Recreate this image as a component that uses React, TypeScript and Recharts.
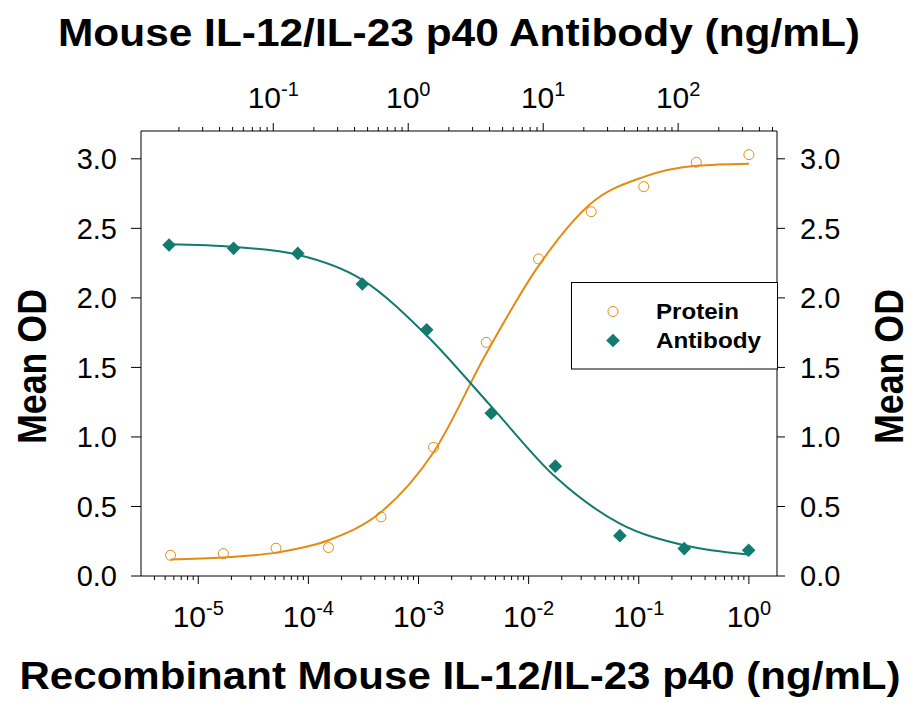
import React from "react";
import {
  ComposedChart,
  Line,
  Scatter,
  XAxis,
  YAxis,
  Legend,
  Customized,
} from "recharts";

const FONT = "'Liberation Sans', Arial, sans-serif";
const ORANGE = "#E38B12";
const TEAL = "#137A70";

// bottom axis: recombinant protein (ng/mL)
const proteinConc = [0.0000056, 0.0000169, 0.0000508, 0.000152, 0.000457, 0.00137, 0.00412, 0.0123, 0.037, 0.111, 0.333, 1];
const proteinOD = [0.149, 0.161, 0.2, 0.205, 0.425, 0.925, 1.68, 2.28, 2.62, 2.8, 2.975, 3.03];
const proteinFit = [0.118, 0.133, 0.168, 0.257, 0.46, 0.89, 1.6, 2.23, 2.68, 2.87, 2.95, 2.965];

// top axis: antibody (ng/mL)
const antibodyConc = [0.0169, 0.0508, 0.152, 0.457, 1.37, 4.12, 12.3, 37, 111, 333];
const antibodyOD = [2.38, 2.356, 2.32, 2.1, 1.77, 1.17, 0.79, 0.29, 0.197, 0.185];
const antibodyFit = [2.385, 2.366, 2.31, 2.13, 1.73, 1.22, 0.713, 0.377, 0.221, 0.154];

const seriesNames = ["Protein", "Antibody"];
const yTicks = [0, 0.5, 1, 1.5, 2, 2.5, 3];
const bottomDecades = [0.000001, 0.00001, 0.0001, 0.001, 0.01, 0.1, 1];
const topDecades = [0.01, 0.1, 1, 10, 100];
const minorSteps = [1, 2, 3, 4, 5, 6, 7, 8, 9];

const bottomDomain = [3.02e-6, 1.8];
const topDomain = [0.01047, 540];

const logTicks = (decades: number[], dom: number[]) =>
  decades
    .flatMap((d) => minorSteps.map((m) => +(d * m).toPrecision(3)))
    .filter((v) => v >= dom[0] && v <= dom[1]);

const bottomTicks = logTicks(bottomDecades, bottomDomain);
const topTicks = logTicks(topDecades, topDomain);

const toPts = (xs: number[], ys: number[]) => xs.map((x, i) => ({ x, y: ys[i] }));
const proteinPts = toPts(proteinConc, proteinOD);
const proteinCurve = toPts(proteinConc, proteinFit);
const antibodyPts = toPts(antibodyConc, antibodyOD);
const antibodyCurve = toPts(antibodyConc, antibodyFit);

const LogTick = ({ x, y, payload, side }: any) => {
  const v = payload.value as number;
  const lg = Math.log10(v);
  const exp = Math.round(lg);
  const major = Math.abs(lg - exp) < 1e-6;
  const dir = side === "top" ? -1 : 1;
  const len = major ? 8 : 4;
  return (
    <g>
      <line x1={x} x2={x} y1={y} y2={y + dir * len} stroke="#000" strokeWidth={1} />
      {major && (
        <text
          x={x}
          y={side === "top" ? y - 23 : y + 51}
          textAnchor="middle"
          fontFamily={FONT}
          fontSize={30}
          fill="#000"
        >
          <tspan>10</tspan>
          <tspan dy={-12} fontSize={20}>{exp}</tspan>
        </text>
      )}
    </g>
  );
};

const Circle = ({ cx, cy }: any) => (
  <circle cx={cx} cy={cy} r={5} fill="none" stroke={ORANGE} strokeWidth={1} />
);

const Diamond = ({ cx, cy }: any) => (
  <path
    d={`M${cx},${cy - 6.8}L${cx + 6.8},${cy}L${cx},${cy + 6.8}L${cx - 6.8},${cy}Z`}
    fill={TEAL}
  />
);

const LegendBox = () => (
  <svg width={207} height={88} style={{ display: "block" }}>
    <rect x={0.5} y={0.5} width={206} height={86.5} fill="#fff" stroke="#000" strokeWidth={1} />
    <Circle cx={42} cy={29.5} />
    <Diamond cx={42} cy={58.5} />
    <text x={85} y={37} fontFamily={FONT} fontWeight="bold" fontSize={22} textLength={83} lengthAdjust="spacingAndGlyphs">
      {seriesNames[0]}
    </text>
    <text x={85} y={66} fontFamily={FONT} fontWeight="bold" fontSize={22} textLength={105} lengthAdjust="spacingAndGlyphs">
      {seriesNames[1]}
    </text>
  </svg>
);

const Titles = () => (
  <g fontFamily={FONT} fontWeight="bold" fill="#000">
    <text x={459} y={46} textAnchor="middle" fontSize={39} textLength={802} lengthAdjust="spacingAndGlyphs">
      Mouse IL-12/IL-23 p40 Antibody (ng/mL)
    </text>
    <text x={460} y={689} textAnchor="middle" fontSize={39} textLength={881} lengthAdjust="spacingAndGlyphs">
      Recombinant Mouse IL-12/IL-23 p40 (ng/mL)
    </text>
    <text transform="translate(46,366.5) rotate(-90)" textAnchor="middle" fontSize={41} textLength={155} lengthAdjust="spacingAndGlyphs">
      Mean OD
    </text>
    <text transform="translate(903,366.5) rotate(-90)" textAnchor="middle" fontSize={41} textLength={155} lengthAdjust="spacingAndGlyphs">
      Mean OD
    </text>
  </g>
);

export default function App() {
  const yTick = { fontSize: 29, fill: "#000", fontFamily: FONT };
  return (
    <div style={{ position: "absolute", left: 0, top: 0, background: "#fff" }}>
      <ComposedChart width={919} height={708} margin={{ top: 0, right: 0, bottom: 0, left: 0 }}>
        <XAxis
          xAxisId="bottom"
          dataKey="x"
          type="number"
          scale="log"
          domain={bottomDomain}
          allowDataOverflow
          ticks={bottomTicks}
          interval={0}
          height={132}
          tickSize={0}
          tickMargin={0}
          tickLine={false}
          axisLine={{ stroke: "#000" }}
          tick={(p: any) => <LogTick {...p} side="bottom" />}
        />
        <XAxis
          xAxisId="top"
          orientation="top"
          dataKey="x"
          type="number"
          scale="log"
          domain={topDomain}
          allowDataOverflow
          ticks={topTicks}
          interval={0}
          height={131}
          tickSize={0}
          tickMargin={0}
          tickLine={false}
          axisLine={{ stroke: "#000" }}
          tick={(p: any) => <LogTick {...p} side="top" />}
        />
        <YAxis
          yAxisId="left"
          type="number"
          domain={[0, 3.2]}
          allowDataOverflow
          ticks={yTicks}
          interval={0}
          width={141}
          tickSize={10}
          tickMargin={14}
          axisLine={{ stroke: "#000" }}
          tickLine={{ stroke: "#000" }}
          tick={yTick}
          tickFormatter={(v: number) => v.toFixed(1)}
        />
        <YAxis
          yAxisId="right"
          orientation="right"
          type="number"
          domain={[0, 3.2]}
          allowDataOverflow
          ticks={yTicks}
          interval={0}
          width={142}
          tickSize={8}
          tickMargin={15}
          axisLine={{ stroke: "#000" }}
          tickLine={{ stroke: "#000" }}
          tick={yTick}
          tickFormatter={(v: number) => v.toFixed(1)}
        />
        <Line
          data={proteinCurve}
          xAxisId="bottom"
          yAxisId="left"
          dataKey="y"
          type="monotone"
          stroke={ORANGE}
          strokeWidth={2}
          dot={false}
          legendType="none"
          isAnimationActive={false}
        />
        <Line
          data={antibodyCurve}
          xAxisId="top"
          yAxisId="left"
          dataKey="y"
          type="monotone"
          stroke={TEAL}
          strokeWidth={2}
          dot={false}
          legendType="none"
          isAnimationActive={false}
        />
        <Scatter
          name={seriesNames[0]}
          data={proteinPts}
          xAxisId="bottom"
          yAxisId="left"
          dataKey="y"
          shape={Circle}
          isAnimationActive={false}
        />
        <Scatter
          name={seriesNames[1]}
          data={antibodyPts}
          xAxisId="top"
          yAxisId="left"
          dataKey="y"
          shape={Diamond}
          isAnimationActive={false}
        />
        <Customized component={<Titles />} />
        <Legend
          layout="vertical"
          align="center"
          verticalAlign="middle"
          content={() => <LegendBox />}
          wrapperStyle={{ left: 571, top: 282, width: 207, height: 88 }}
        />
      </ComposedChart>
    </div>
  );
}
